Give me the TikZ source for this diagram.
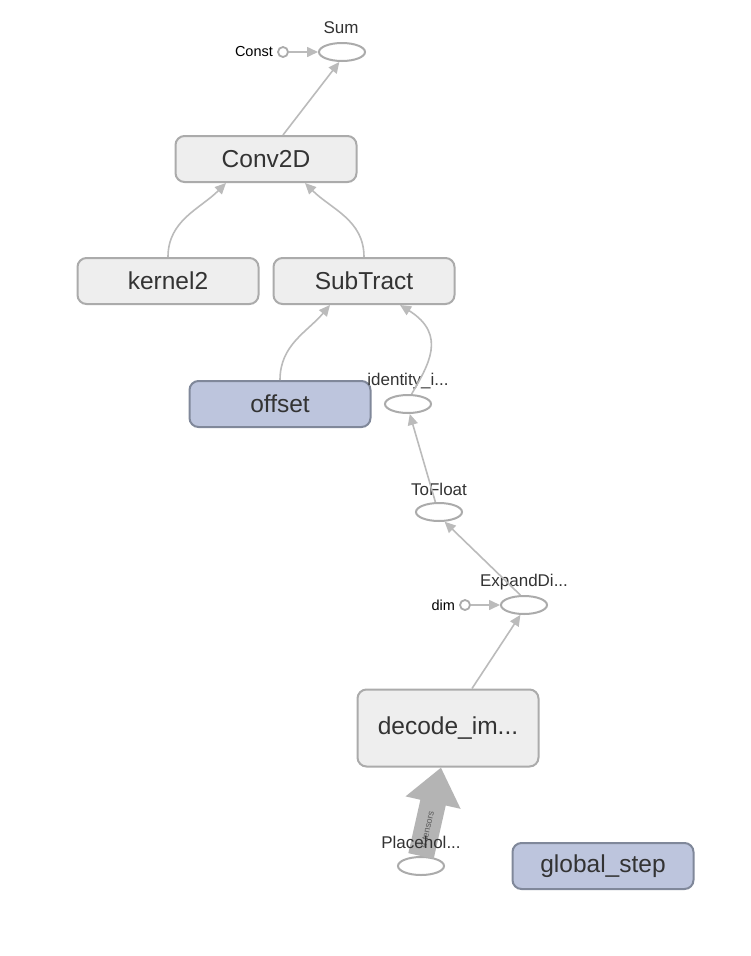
\documentclass[tikz,border=0pt]{standalone}
\usepackage{fontspec}
\setmainfont{Liberation Sans}
\usetikzlibrary{arrows.meta,shapes.geometric}

\definecolor{opfill}{HTML}{EEEEEE}
\definecolor{opline}{HTML}{ABABAB}
\definecolor{varfill}{HTML}{BDC5DD}
\definecolor{varline}{HTML}{80889A}
\definecolor{edgecol}{HTML}{BBBBBB}
\definecolor{fatcol}{HTML}{B4B4B4}
\definecolor{txt}{HTML}{333333}

\begin{document}
\begin{tikzpicture}[
  x=1pt,y=-1pt,
  op/.style={draw=opline,fill=opfill,line width=2,rounded corners=9,minimum width=181,minimum height=46,font=\fontsize{24.5}{28}\selectfont,text=txt},
  var/.style={op,draw=varline,fill=varfill},
  small/.style={ellipse,draw=opline,fill=white,line width=2,minimum width=46,minimum height=18,inner sep=0},
  cnst/.style={circle,draw=opline,fill=white,line width=1.8,minimum size=10,inner sep=0},
  lbl/.style={font=\fontsize{17}{19}\selectfont,text=txt},
  clbl/.style={font=\fontsize{14.5}{16}\selectfont,inner sep=4},
  edge/.style={draw=edgecol,line width=1.6,-{Triangle[length=11,width=10]}},
  fat/.style={draw=fatcol,line width=26,-{Triangle[length=36,width=54]}}
]
\useasboundingbox[fill=white] (0,0) rectangle (751,956);

% ops and variables
\node[op] (conv) at (266,159) {Conv2D};
\node[op] (kernel) at (168,281) {kernel2};
\node[op] (sub) at (364,281) {SubTract};
\node[var] (offset) at (280,404) {offset};
\node[op,minimum height=77] (decode) at (448,728) {decode\_im...};
\node[var] (gstep) at (603,866) {global\_step};

% small ops
\node[small] (sum) at (342,52) {};
\node[lbl] (sumlbl) at (341,28) {Sum};
\node[cnst] (const) at (283,52) {};
\node[clbl,anchor=east] (constlbl) at (const.west) {Const};
\node[small] (ident) at (408,404) {};
\node[lbl] (identlbl) at (408,381) {identity\_i...};
\node[small] (tofloat) at (439,512) {};
\node[lbl] (tofloatlbl) at (439,489) {ToFloat};
\node[small] (expand) at (524,605) {};
\node[lbl] (expandlbl) at (524,582) {ExpandDi...};
\node[cnst] (dim) at (465,605) {};
\node[clbl,anchor=east] (dimlbl) at (dim.west) {dim};
\node[small] (ph) at (421,866) {};

% edges
\draw[edge] (const) -- (sum);
\draw[edge] ([xshift=17]conv.north) -- (sum.-105);
\draw[edge] (kernel.north) to[out=90,in=-135] ([xshift=-40]conv.south);
\draw[edge] (sub.north) to[out=90,in=-45] ([xshift=39]conv.south);
\draw[edge] (offset.north) to[out=90,in=-130] ([xshift=-34]sub.south);
\draw[edge] (ident.70) .. controls +(16,-28) and +(48,30) .. ([xshift=36]sub.south);
\draw[edge] (tofloat.110) -- (ident.-80);
\draw[edge] (expand.110) -- (tofloat.-60);
\draw[edge] (dim) -- (expand);
\draw[edge] ([xshift=24]decode.north) -- (expand.-110);
\draw[fat] (ph.north) -- node[sloped,pos=.3,font=\fontsize{9}{10}\selectfont,text=txt!80] {4 tensors} ([xshift=-7]decode.south);

\node[lbl] (phlbl) at (421,842) {Placehol...};
\end{tikzpicture}
\end{document}
